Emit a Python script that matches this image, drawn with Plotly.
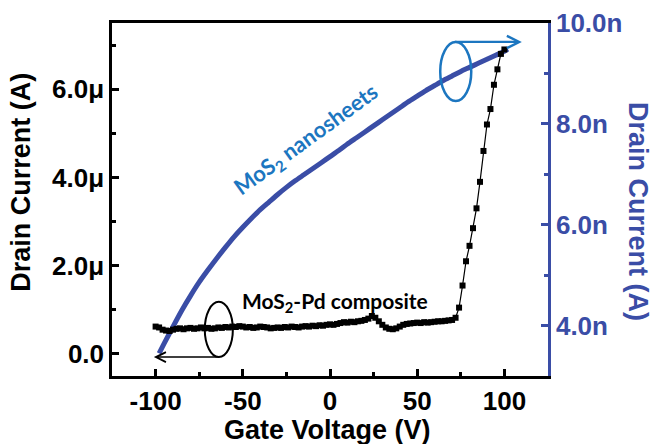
import plotly.graph_objects as go

# ---------------- data ----------------
gate_v_composite = [
    -100, -98, -96, -94, -92, -90, -88, -86, -84, -82, -80, -78, -76, -74, -72, -70,
    -68, -66, -64, -62, -60, -58, -56, -54, -52, -50, -48, -46, -44, -42, -40, -38,
    -36, -34, -32, -30, -28, -26, -24, -22, -20, -18, -16, -14, -12, -10, -8, -6,
    -4, -2, 0, 2, 4, 6, 8, 10, 12, 14, 16, 18, 20, 22, 24, 26, 28, 30, 32, 34, 36,
    38, 40, 42, 44, 46, 48, 50, 52, 54, 56, 58, 60, 62, 64, 66, 68, 70, 72, 74, 76,
    78, 80, 82, 84, 86, 88, 90, 92, 94, 96, 98, 100]
current_composite_uA = [
    0.62, 0.60, 0.55, 0.53, 0.52, 0.55, 0.57, 0.58, 0.56, 0.58, 0.59, 0.57, 0.58, 0.60, 0.58, 0.59,
    0.57, 0.58, 0.60, 0.59, 0.61, 0.60, 0.62, 0.61, 0.63, 0.62, 0.60, 0.61, 0.59, 0.60, 0.62, 0.61,
    0.60, 0.58, 0.59, 0.60, 0.59, 0.61, 0.60, 0.62, 0.61, 0.60, 0.62, 0.63, 0.62, 0.64, 0.63, 0.65,
    0.64, 0.66, 0.67, 0.66, 0.68, 0.70, 0.72, 0.71, 0.73, 0.72, 0.74, 0.75, 0.77, 0.80, 0.86, 0.82, 0.74, 0.66, 0.60, 0.57, 0.56,
    0.58, 0.62, 0.66, 0.68, 0.69, 0.70, 0.71, 0.70, 0.72, 0.71, 0.72, 0.73, 0.74, 0.74, 0.75, 0.76, 0.77, 0.82, 1.05, 1.55,
    2.10, 2.45, 2.85, 3.30, 3.90, 4.60, 5.20, 5.55, 6.10, 6.45, 6.80, 6.90]

gate_v_nanosheets = [
    -98, -95, -90, -85, -80, -75, -70, -65, -60, -55, -50, -45, -40, -35, -30, -25,
    -20, -15, -10, -5, 0, 5, 10, 15, 20, 25, 30, 35, 40, 45, 50, 55, 60, 65, 70, 75,
    80, 85, 90, 95, 100, 102]
current_nanosheets_nA = [
    3.45, 3.65, 3.98, 4.30, 4.59, 4.86, 5.10, 5.33, 5.55, 5.76, 5.95, 6.13, 6.30, 6.45, 6.60, 6.74,
    6.87, 6.99, 7.11, 7.23, 7.35, 7.47, 7.60, 7.72, 7.84, 7.96, 8.08, 8.20, 8.32, 8.44, 8.55, 8.66,
    8.76, 8.86, 8.95, 9.04, 9.12, 9.20, 9.28, 9.36, 9.44, 9.48]

x_tick_vals = [-100, -50, 0, 50, 100]
x_tick_text = ["-100", "-50", "0", "50", "100"]
left_tick_vals = [0, 2, 4, 6]
left_tick_text = ["0.0", "2.0\u03bc", "4.0\u03bc", "6.0\u03bc"]
right_tick_vals = [4, 6, 8, 10]
right_tick_text = ["4.0n", "6.0n", "8.0n", "10.0n"]

# ---------------- style ----------------
BLUE = "#3a4da6"
LIGHT_BLUE = "#1c76c0"
AX_FONT = "Liberation Sans"
ANN_FONT = "Lato"

fig = go.Figure()

fig.add_trace(go.Scatter(
    x=gate_v_nanosheets, y=current_nanosheets_nA, mode="lines",
    line=dict(color=BLUE, width=5, shape="spline", smoothing=0.6), yaxis="y", showlegend=False))

fig.add_trace(go.Scatter(
    x=gate_v_composite, y=current_composite_uA, mode="lines+markers",
    line=dict(color="black", width=1.2),
    marker=dict(symbol="square", size=6, color="black"),
    yaxis="y2", showlegend=False))

fig.update_layout(
    template="none",
    width=652, height=444,
    margin=dict(l=112, r=104, t=23, b=68),
    paper_bgcolor="white", plot_bgcolor="white",
    xaxis=dict(
        range=[-125, 125], tickvals=x_tick_vals, ticktext=x_tick_text,
        showline=True, linecolor="black", linewidth=2.5, mirror=True,
        ticks="inside", ticklen=7, tickwidth=2.5, tickcolor="black",
        minor=dict(dtick=25, tick0=-125, ticks="inside", ticklen=4, tickwidth=2.5, tickcolor="black"),
        showgrid=False, zeroline=False, automargin=False,
        tickfont=dict(family=AX_FONT, size=26, color="black", weight="bold")),
    yaxis=dict(
        range=[3, 10], side="right", tickvals=right_tick_vals, ticktext=right_tick_text,
        showline=True, linecolor=BLUE, linewidth=2.5,
        ticks="inside", ticklen=7, tickwidth=2.5, tickcolor=BLUE,
        minor=dict(dtick=1, tick0=3, ticks="inside", ticklen=4, tickwidth=2.5, tickcolor=BLUE),
        showgrid=False, zeroline=False, automargin=False,
        tickfont=dict(family=AX_FONT, size=26, color=BLUE, weight="bold")),
    yaxis2=dict(
        range=[-0.5, 7.5], side="left", overlaying="y",
        tickvals=left_tick_vals, ticktext=left_tick_text,
        showline=True, linecolor="black", linewidth=2.5,
        ticks="inside", ticklen=7, tickwidth=2.5, tickcolor="black",
        minor=dict(dtick=1, tick0=1, ticks="inside", ticklen=4, tickwidth=2.5, tickcolor="black"),
        showgrid=False, zeroline=False, automargin=False,
        tickfont=dict(family=AX_FONT, size=26, color="black", weight="bold")),
)

# axis titles
title_font = dict(family=AX_FONT, size=27, weight="bold")
fig.add_annotation(text="Gate Voltage (V)", xref="paper", yref="paper", x=0.495, y=-0.153,
                   showarrow=False, xanchor="center", yanchor="middle",
                   font=dict(**title_font, color="black"))
fig.add_annotation(text="Drain Current (A)", xref="paper", yref="paper", x=-0.209, y=0.55,
                   showarrow=False, textangle=-90, xanchor="center", yanchor="middle",
                   font=dict(**title_font, color="black"))
fig.add_annotation(text="Drain Current (A)", xref="paper", yref="paper", x=1.207, y=0.467,
                   showarrow=False, textangle=90, xanchor="center", yanchor="middle",
                   font=dict(**title_font, color=BLUE))

# series labels
fig.add_annotation(text="MoS<sub>2</sub> nanosheets", xref="x", yref="y2", x=-13.5, y=4.84,
                   showarrow=False, textangle=-36,
                   font=dict(family=ANN_FONT, size=22, color=LIGHT_BLUE, weight="bold"))
fig.add_annotation(text="MoS<sub>2</sub>-Pd composite", xref="x", yref="y2", x=2.9, y=1.18,
                   showarrow=False,
                   font=dict(family=ANN_FONT, size=21, color="black", weight="bold"))

# ellipses
fig.add_shape(type="circle", xref="x", yref="y2", x0=-71.8, x1=-55.7, y0=-0.07, y1=1.18,
              line=dict(color="black", width=2))
fig.add_shape(type="circle", xref="x", yref="y2", x0=63.2, x1=81, y0=5.73, y1=7.07,
              line=dict(color=LIGHT_BLUE, width=2.5))

# arrows
fig.add_annotation(text="", xref="x", yref="y2", axref="x", ayref="y2",
                   x=-101, y=-0.07, ax=-62.6, ay=-0.07,
                   showarrow=True, arrowhead=5, arrowsize=1.3, arrowwidth=1.5, arrowcolor="black")
fig.add_annotation(text="", xref="x", yref="y2", axref="x", ayref="y2",
                   x=110, y=7.07, ax=70.7, ay=7.07,
                   showarrow=True, arrowhead=5, arrowsize=1.1, arrowwidth=2.2, arrowcolor=LIGHT_BLUE)

fig.write_html("out.html", config={"displayModeBar": False},
               post_script="document.body.style.margin='0';document.body.style.overflow='hidden';")
